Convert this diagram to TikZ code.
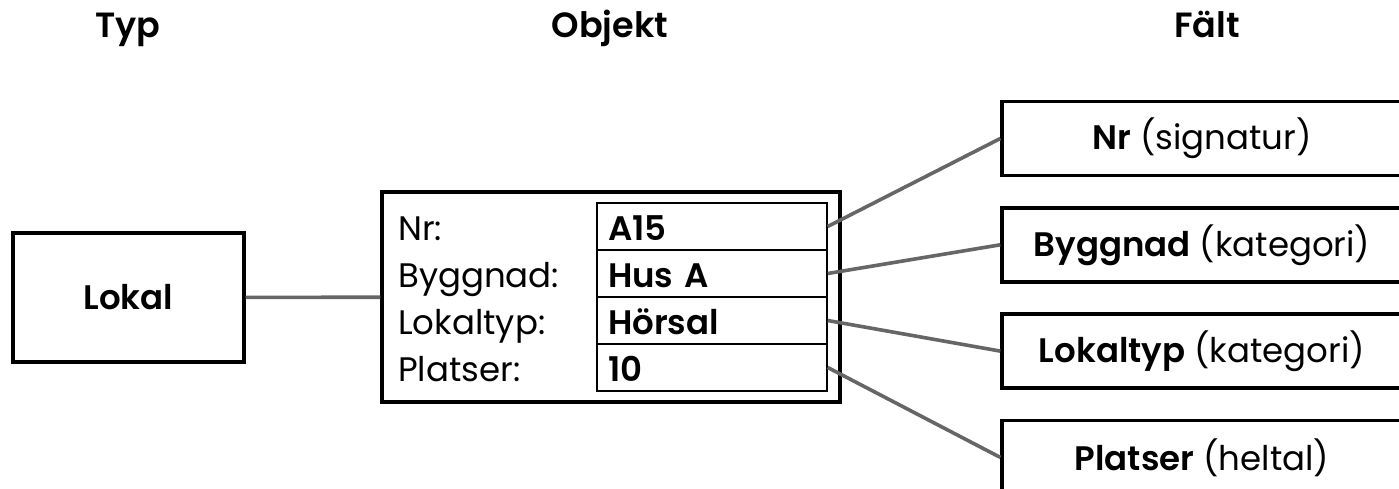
\documentclass[tikz,border=0pt]{standalone}
\usepackage{fontspec}
\setmainfont{Poppins}[BoldFont={Poppins SemiBold}]
\usetikzlibrary{positioning}
\tikzstyle{typbox} = [rectangle, draw=black, line width=3.4pt, minimum width=231pt, minimum height=129pt, font=\fontsize{34}{40}\selectfont\bfseries]
\tikzstyle{objbox} = [rectangle, draw=black, line width=3.4pt, minimum width=458pt, minimum height=210pt]
\tikzstyle{rowbox} = [rectangle, draw=black, line width=1.4pt, minimum height=47pt, text width=208pt, text height=27pt, text depth=0pt, inner xsep=11pt, inner ysep=0pt, align=left, font=\fontsize{34}{40}\selectfont\bfseries]
\tikzstyle{rowlabel} = [anchor=base west, inner sep=0pt, font=\fontsize{34}{40}\selectfont]
\tikzstyle{faltbox} = [rectangle, draw=black, line width=3.4pt, minimum width=400pt, minimum height=74pt, font=\fontsize{34}{40}\selectfont]
\tikzstyle{heading} = [anchor=base, font=\fontsize{35}{40}\selectfont\bfseries]
\tikzstyle{link} = [line width=3.6pt, draw=black!60]

\begin{document}
\begin{tikzpicture}[x=1pt, y=-1pt, node distance=47pt]
    \clip (0,0) rectangle (1399,489);
    % rubriker
    \node (TypHead) [heading] at (128,38) {Typ};
    \node (ObjHead) [heading] at (610,38) {Objekt};
    \node (FaltHead) [heading] at (1207,38) {Fält};
    % typ och objekt
    \node (Lokal) [typbox] at (128.5,297.5) {Lokal};
    \node (Obj) [objbox] at (611,297) {};
    \node (ValNr) [rowbox] at (712,226.5) {A15};
    \node (ValByggnad) [rowbox, below of = ValNr] {Hus A};
    \node (ValLokaltyp) [rowbox, below of = ValByggnad] {Hörsal};
    \node (ValPlatser) [rowbox, below of = ValLokaltyp] {10};
    \node (LabNr) [rowlabel] at (398,240) {Nr:};
    \node (LabByggnad) [rowlabel] at (398,287) {Byggnad:};
    \node (LabLokaltyp) [rowlabel] at (398,334) {Lokaltyp:};
    \node (LabPlatser) [rowlabel] at (398,381) {Platser:};
    % fält
    \node (FaltNr) [faltbox] at (1202,138.5) {\textbf{Nr} (signatur)};
    \node (FaltByggnad) [faltbox, below of = FaltNr, node distance=106.3pt] {\textbf{Byggnad} (kategori)};
    \node (FaltLokaltyp) [faltbox, below of = FaltByggnad, node distance=106.3pt] {\textbf{Lokaltyp} (kategori)};
    \node (FaltPlatser) [faltbox, below of = FaltLokaltyp, node distance=106.3pt] {\textbf{Platser} (heltal)};
    % kopplingar
    \draw [link] (Lokal) -- (Obj);
    \draw [link] (ValNr.east) -- (FaltNr.west);
    \draw [link] (ValByggnad.east) -- (FaltByggnad.west);
    \draw [link] (ValLokaltyp.east) -- (FaltLokaltyp.west);
    \draw [link] (ValPlatser.east) -- (FaltPlatser.west);
\end{tikzpicture}
\end{document}
